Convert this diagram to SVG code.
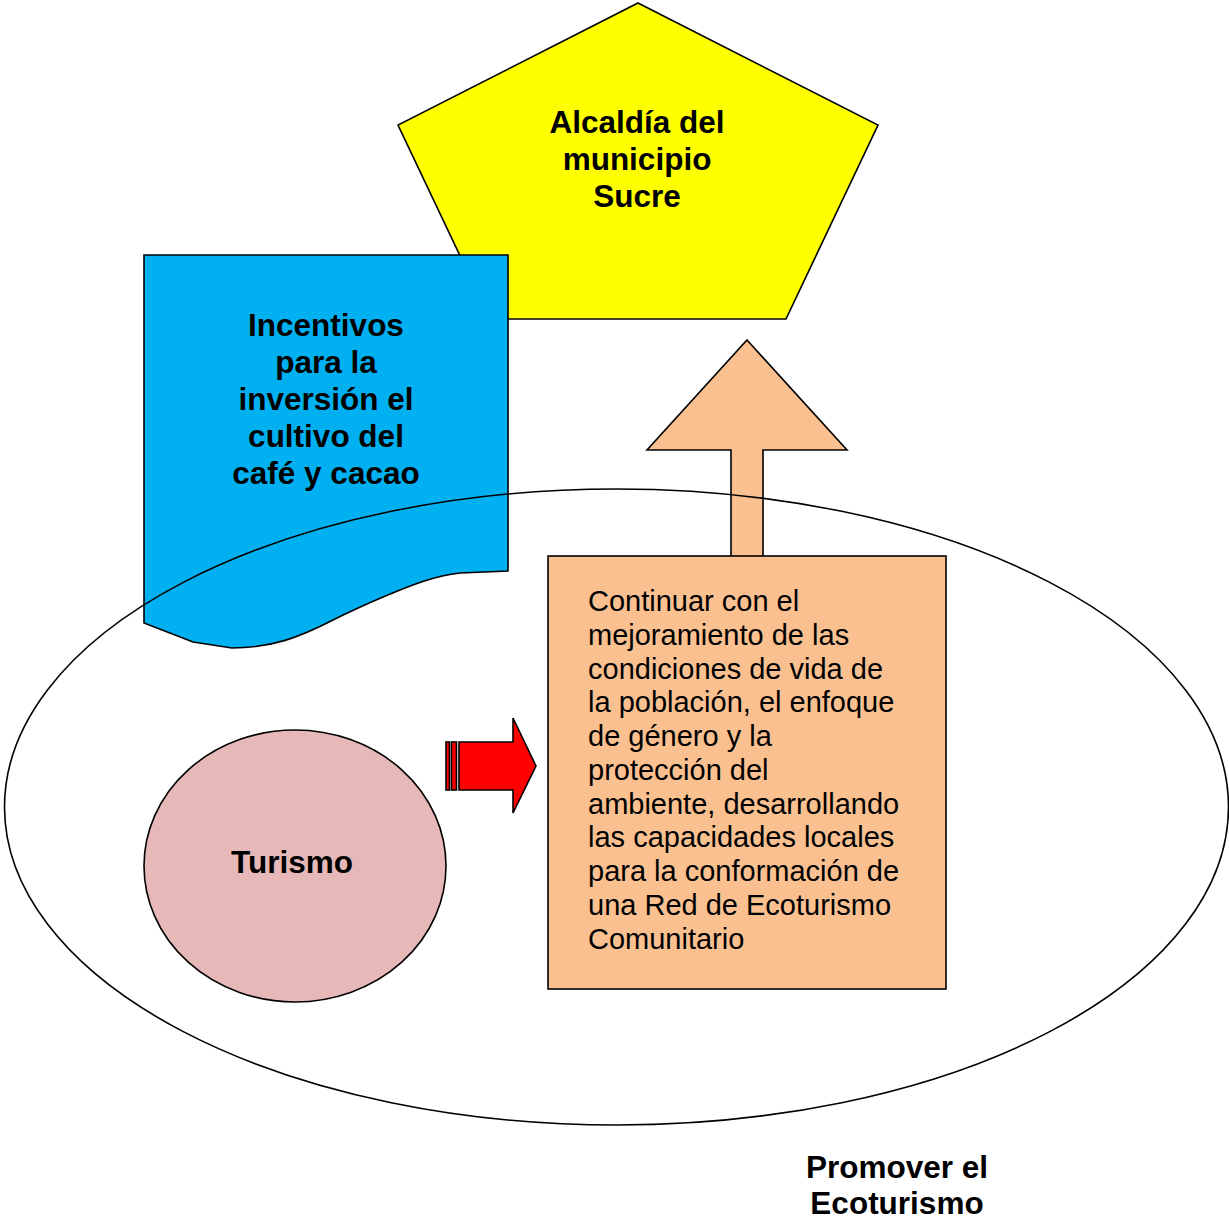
<svg xmlns="http://www.w3.org/2000/svg" width="1229" height="1219" viewBox="0 0 1229 1219">
<style>
.shape{stroke:#000;stroke-width:1.6;stroke-linejoin:miter}
.bold{font-family:"Liberation Sans",Arial,sans-serif;font-weight:bold;font-size:31.5px;fill:#000;text-anchor:middle}
.body{font-family:"Liberation Sans",Arial,sans-serif;font-size:29px;fill:#000}
</style>
<rect x="0" y="0" width="1229" height="1219" fill="#fff"/>
<g id="alcaldia">
<polygon class="shape" fill="#FFFF00" points="638,3 878,125 786,319 490,319 398,125"/>
<text class="bold" x="637" y="133">Alcaldía del</text>
<text class="bold" x="637" y="170">municipio</text>
<text class="bold" x="637" y="207">Sucre</text>
</g>
<g id="incentivos">
<path class="shape" fill="#00B0F0" d="M144,255 H508 V571 L460,573 C432,576 405,588 383,597 C362,606 347,613 333,620 C300,637 272,648 232,648 L193,642 L144,623 Z"/>
<text class="bold" x="326" y="336">Incentivos</text>
<text class="bold" x="326" y="373">para la</text>
<text class="bold" x="326" y="410">inversión el</text>
<text class="bold" x="326" y="447">cultivo del</text>
<text class="bold" x="326" y="484">café y cacao</text>
</g>
<g id="connectors">
<polygon class="shape" fill="#FAC090" points="747,340 847,450 763,450 763,557 731,557 731,450 647,450"/>
<rect class="shape" fill="#FF0000" x="446" y="742" width="3.5" height="48"/>
<rect class="shape" fill="#FF0000" x="451.5" y="742" width="5" height="48"/>
<polygon class="shape" fill="#FF0000" points="459,742 513,742 513,718 536,766 513,813 513,790 459,790"/>
</g>
<g id="ecoturismo">
<ellipse class="shape" fill="none" cx="616.5" cy="807" rx="612" ry="318"/>
<text class="bold" x="897" y="1178">Promover el</text>
<text class="bold" x="897" y="1214">Ecoturismo</text>
</g>
<g id="continuar">
<rect class="shape" fill="#FAC090" x="548" y="556" width="398" height="433"/>
<text class="body" x="588">
<tspan x="588" y="611">Continuar con el</tspan>
<tspan x="588" y="645">mejoramiento de las</tspan>
<tspan x="588" y="679">condiciones de vida de</tspan>
<tspan x="588" y="712">la población, el enfoque</tspan>
<tspan x="588" y="746">de género y la</tspan>
<tspan x="588" y="780">protección del</tspan>
<tspan x="588" y="814">ambiente, desarrollando</tspan>
<tspan x="588" y="847">las capacidades locales</tspan>
<tspan x="588" y="881">para la conformación de</tspan>
<tspan x="588" y="915">una Red de Ecoturismo</tspan>
<tspan x="588" y="949">Comunitario</tspan>
</text>
</g>
<g id="turismo">
<ellipse class="shape" fill="#E6B8B7" cx="295" cy="866" rx="151" ry="136"/>
<text class="bold" x="292" y="873">Turismo</text>
</g>
</svg>
